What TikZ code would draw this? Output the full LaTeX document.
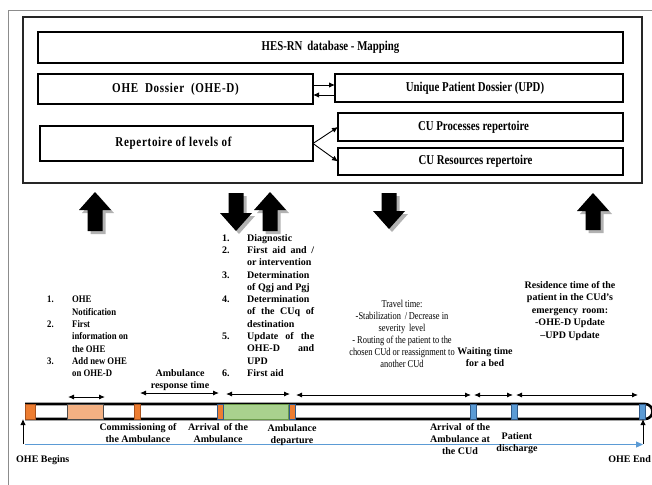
\documentclass[tikz,border=0pt]{standalone}
\usepackage{fontspec}
\setmainfont{Liberation Serif}
\newfontfamily\narrowserif{Liberation Serif}[FakeStretch=0.8]
\newfontfamily\spacedserif{Liberation Serif}[FakeStretch=0.82, LetterSpace=5]
\newfontfamily\travelserif{Liberation Serif}[FakeStretch=0.8]
\newfontfamily\listserif{Liberation Serif}[FakeStretch=0.87]
\usetikzlibrary{arrows.meta}
\definecolor{mkorange}{HTML}{ED7D31}
\definecolor{mkorangeb}{HTML}{A8511C}
\definecolor{mksalmon}{HTML}{F4B183}
\definecolor{mkgreen}{HTML}{A9D18E}
\definecolor{mkgreenb}{HTML}{6A9A4A}
\definecolor{mkblue}{HTML}{5B9BD5}
\definecolor{mkblueb}{HTML}{2F5A8A}
\definecolor{framegray}{HTML}{8C8C8C}

% block arrows (with a soft shadow): centre x, tip y, base y
\newcommand\blockup[3]{%
  \fill[black!30] ({#1+3},{#2+3}) -- ({#1+19},{#2+21}) -- ({#1+10.5},{#2+21}) -- ({#1+10.5},{#3+3}) -- ({#1-4.5},{#3+3}) -- ({#1-4.5},{#2+21}) -- ({#1-13},{#2+21}) -- cycle;
  \fill (#1,#2) -- ({#1+16},{#2+18}) -- ({#1+7.5},{#2+18}) -- ({#1+7.5},#3) -- ({#1-7.5},#3) -- ({#1-7.5},{#2+18}) -- ({#1-16},{#2+18}) -- cycle;}
\newcommand\blockdown[3]{%
  \fill[black!30] ({#1+3},{#3+3}) -- ({#1+19},{#3-15}) -- ({#1+10.5},{#3-15}) -- ({#1+10.5},{#2+3}) -- ({#1-4.5},{#2+3}) -- ({#1-4.5},{#3-15}) -- ({#1-13},{#3-15}) -- cycle;
  \fill (#1,#3) -- ({#1+16},{#3-18}) -- ({#1+7.5},{#3-18}) -- ({#1+7.5},#2) -- ({#1-7.5},#2) -- ({#1-7.5},{#3-18}) -- ({#1-16},{#3-18}) -- cycle;}

\newcommand\lnum[1]{\makebox[25pt][l]{#1}}
\newcommand\jline[1]{\makebox[67pt][s]{#1}}

\begin{document}
\begin{tikzpicture}[x=1pt,y=-1pt,
  box/.style={draw=black, line width=1.4pt, inner sep=0pt, outer sep=0pt,
    font=\narrowserif\bfseries\fontsize{13.5}{15}\selectfont},
  widebox/.style={box, font=\spacedserif\bfseries\fontsize{13.5}{15}\selectfont},
  mk/.style={draw, line width=0.9pt, minimum height=15pt, inner sep=0pt, outer sep=0pt},
  lbl/.style={inner sep=0pt, anchor=north, align=center,
    font=\bfseries\fontsize{10}{12}\selectfont},
  listtext/.style={inner sep=0pt, anchor=north west, align=left,
    font=\bfseries\fontsize{10}{12.3}\selectfont},
  plaintext/.style={inner sep=0pt, anchor=north, align=center,
    font=\travelserif\fontsize{10.5}{12}\selectfont},
  smallarrow/.style={-{Latex[length=6pt,width=5.5pt]}, line width=0.9pt},
  span/.style={{Latex[length=6pt,width=5pt]}-{Latex[length=6pt,width=5pt]}, line width=0.9pt},
]
\useasboundingbox (0,0) rectangle (652,484);

% page frames
\draw[framegray, line width=0.9pt] (8,490) -- (8,10) -- (660,10);
\draw[black!85, line width=1.2pt] (23,17) rectangle (642,183);

% database boxes
\node[box, minimum width=585pt, minimum height=31pt] (hes) at (330.5,47.5) {HES-RN\, database - Mapping};
\node[widebox, minimum width=275pt, minimum height=30pt] (ohed) at (175.5,89) {OHE\ \ Dossier\ \ (OHE-D)};
\node[box, minimum width=288pt, minimum height=28pt] (upd) at (479,88) {Unique Patient Dossier (UPD)\hspace*{8pt}};
\node[widebox, minimum width=273pt, minimum height=35pt] (rep) at (176.5,143.5) {Repertoire of levels of\hspace*{6pt}};
\node[box, minimum width=285pt, minimum height=28pt] (cup) at (480.5,127) {CU Processes repertoire\hspace*{14pt}};
\node[box, minimum width=285pt, minimum height=27pt] (cur) at (480.5,161.5) {CU Resources repertoire\hspace*{10pt}};

\draw[smallarrow] ([yshift=4pt]ohed.east) -- ([yshift=4pt]ohed.east -| upd.west);
\draw[smallarrow] ([yshift=-7pt]upd.west) -- ([yshift=-7pt]upd.west -| ohed.east);
\draw[smallarrow] (rep.east) -- (cup.west);
\draw[smallarrow] (rep.east) -- (cur.west);

% exchanges with the database
\blockup{95}{192}{231}
\blockdown{236}{193}{231}
\blockup{270}{192}{231}
\blockdown{389}{193}{229}
\blockup{593}{193}{230}

% time line
\draw[line width=2.6pt] (25,404) -- (645,404) arc[start angle=-90, end angle=90, radius=7.5] -- (25,419);
\node[mk, fill=mkorange, draw=mkorangeb, minimum width=10pt] (m1) at (30,411.5) {};
\node[mk, fill=mksalmon, draw=black!70, line width=0.7pt, minimum width=36pt] (sal) at (85,411.5) {};
\node[mk, fill=mkorange, draw=mkorangeb, minimum width=6pt] (m2) at (137,411.5) {};
\node[mk, fill=mkgreen, draw=mkgreenb, line width=0.7pt, minimum width=65pt] (grn) at (255.5,411.5) {};
\node[mk, fill=mkorange, draw=mkblueb, minimum width=6pt] (m3) at (220.5,411.5) {};
\node[mk, fill=mkorange, draw=mkblueb, minimum width=6pt] (m4) at (292,411.5) {};
\node[mk, fill=mkblue, draw=mkblueb, minimum width=6pt] (b1) at (473,411.5) {};
\node[mk, fill=mkblue, draw=mkblueb, minimum width=6pt] (b2) at (514.5,411.5) {};
\node[mk, fill=mkblue, draw=mkblueb, minimum width=6pt] (b3) at (642.5,411.5) {};

% durations
\coordinate (s1a) at (68,397);  \coordinate (s1b) at (105,397);
\coordinate (s2a) at (140,393); \coordinate (s2b) at (219,393);
\coordinate (s3a) at (226,394); \coordinate (s3b) at (290,394);
\coordinate (s4a) at (296,395); \coordinate (s4b) at (471,395);
\coordinate (s5a) at (474,395); \coordinate (s5b) at (513,395);
\coordinate (s6a) at (516,395); \coordinate (s6b) at (638,395);
\draw[span] (s1a) -- (s1b);
\draw[span] (s2a) -- (s2b);
\draw[span] (s3a) -- (s3b);
\draw[span] (s4a) -- (s4b);
\draw[span] (s5a) -- (s5b);
\draw[span] (s6a) -- (s6b);

% start / end of the event
\coordinate (begfoot) at (23,444);
\coordinate (endfoot) at (643,444);
\coordinate (lineA) at (25,444.5);
\coordinate (lineB) at (643,444.5);
\draw[mkblue, line width=1.1pt, -{Triangle[length=7pt,width=6pt]}] (lineA) -- (lineB);
\draw[smallarrow] (begfoot) -- (begfoot |- m1.south);
\draw[smallarrow] (endfoot) -- (endfoot |- b3.south);
\node[inner sep=0pt, anchor=base west, font=\bfseries\fontsize{10}{12}\selectfont] (beg) at (16,462) {OHE Begins};
\node[inner sep=0pt, anchor=base east, font=\bfseries\fontsize{10}{12}\selectfont] (end) at (651,462) {OHE End};

% milestones under the line
\node[lbl] (lcomm) at (138,423) {Commissioning of\\the Ambulance};
\node[lbl] (larr) at (218,423) {Arrival\, of the\\Ambulance};
\node[lbl] (ldep) at (292,424) {Ambulance\\departure};
\node[lbl] (lcud) at (460,423) {Arrival\, of the\\Ambulance at\\the CUd};
\node[lbl] (ldis) at (517,432) {Patient\\discharge};

% tasks and durations above the line
\node[listtext, font=\listserif\bfseries\fontsize{10}{12.3}\selectfont] (tasks1) at (47,296) {%
  \lnum{1.}OHE\\
  \lnum{}Notification\\
  \lnum{2.}First\\
  \lnum{}information on\\
  \lnum{}the OHE\\
  \lnum{3.}Add new OHE\\
  \lnum{}on OHE-D};
\node[listtext] (tasks2) at (222,234) {%
  \lnum{1.}Diagnostic\\
  \lnum{2.}\jline{First aid and /}\\
  \lnum{}or intervention\\
  \lnum{3.}Determination\\
  \lnum{}of Qgj and Pgj\\
  \lnum{4.}Determination\\
  \lnum{}\jline{of the CUq of}\\
  \lnum{}destination\\
  \lnum{5.}\jline{Update of the}\\
  \lnum{}\jline{OHE-D and}\\
  \lnum{}UPD\\
  \lnum{6.}First aid};
\node[lbl] (resp) at (180,369) {Ambulance\\response time};
\node[plaintext] (travel) at (402,300) {Travel time:\\-Stabilization\, /\,Decrease in\\severity\, level\\- Routing of the patient to the\\chosen CUd or reassignment to\\another CUd};
\node[lbl] (wait) at (485,347) {Waiting time\\for a bed};
\node[lbl, font=\bfseries\fontsize{10}{12.5}\selectfont] (resid) at (570,281) {Residence time of the\\patient in the CUd's\\emergency\, room:\\-OHE-D Update\\--UPD Update};
\end{tikzpicture}
\end{document}
